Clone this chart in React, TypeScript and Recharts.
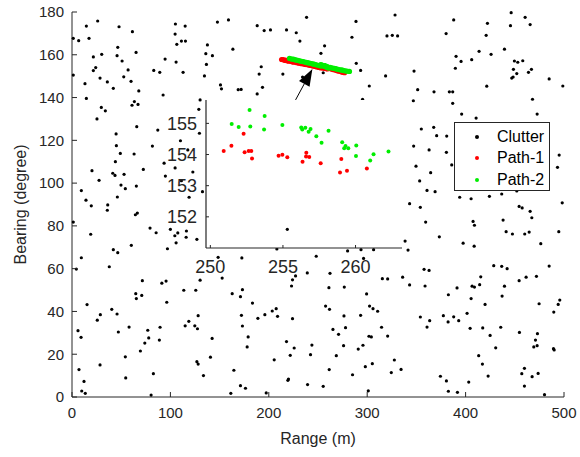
import React from "react";
import { ScatterChart, Scatter, XAxis, YAxis, ReferenceLine, Legend } from "recharts";

type Pt = [number, number];

// ─── Data: [range (m), bearing (degree)] ─────────────────────────────────────
const clutter: Pt[] = [
  [26.1,175.8],[14.6,173.4],[47.8,173.1],[61.4,170.8],[105.1,174.4],[115,173.4],[1.3,167.7],[6.8,166.6],[17.3,167.7],[104.8,169.7],
  [106.5,164.9],[111.2,166.4],[115.3,166.4],[46.5,163.5],[65.1,161.1],[30.2,160.2],[21.7,159],[45.8,159.6],[50.9,157.1],[94.6,158],
  [105.8,156.6],[24.1,154],[21.7,152.6],[57,152.9],[83.1,152.7],[89.2,151.8],[112.9,151.8],[1.3,150.5],[28.5,149.1],[52.6,149.7],
  [13.2,146.5],[35.9,147.3],[60,147.6],[42,144.3],[67.9,143.1],[14.6,139.6],[92.6,141.2],[63.4,138.1],[61,136.4],[67.1,136.8],
  [29.8,135.4],[33.9,133.8],[25.4,130],[65.8,126.4],[87.2,124.8],[44.8,123],
  [147.8,175.3],[159,176.3],[238.4,177.5],[188.2,173.6],[195.3,171.3],[201.7,171.6],[218,171.6],[227.9,170.3],[231.6,166.4],[137.6,164.6],
  [136,160.5],[142.7,159.6],[163.5,162.6],[136.6,155.5],[134.6,150.1],[192.3,154.4],[214.3,151],[190.2,151],[234.3,149.6],[150.9,145.9],
  [151.9,144.1],[168.9,143.7],[171.9,143.8],[193.6,144.8],[188.2,141.7],[130.2,138.9],[128.9,134.5],[129.5,123.3],
  [328.3,178.6],[288.6,175.6],[284.5,168.2],[320.1,168.8],[325.5,169.1],[330.9,168.8],[256.7,164.2],[253,160.7],[288.9,156],[293.3,152.7],
  [255.3,151.6],[347.6,152.4],[318.7,150.1],[302.1,145.4],[351.3,143.7],[367.9,142.7],[295.3,139.2],[346.9,138.5],[355,125.3],[367.6,126.1],
  [370.6,122.2],
  [446.3,179.7],[387.9,176.3],[422.2,174.7],[460.5,177.5],[445.6,173.6],[465.6,174.1],[380.2,169.9],[420.9,169.1],[439.5,162.6],[413.7,161.6],
  [425.9,160.2],[390.3,159.3],[395.4,156.9],[406.2,157.7],[449.6,157.1],[453,156.5],[458.1,157.2],[389.6,153.7],[448.6,153.2],[466.9,153.2],
  [463.9,151.8],[452,151.2],[448.3,149.6],[446.9,149.1],[484.9,148.7],[498.8,145.4],[421.5,145.3],[383.5,142.7],[386.9,142.7],[468,139.2],
  [386.9,137.3],[396,132.3],[472.7,132.3],[410.7,130.4],[380.8,122],
  [110.2,119.8],[45.1,117.5],[81.7,117.3],[49.1,113.9],[63.1,113.6],[44.1,110],[93.6,109.3],[117.7,115.5],[104.8,107.1],[20.3,105.8],
  [41.4,104.6],[43.7,103.6],[52.9,104.1],[72.5,106.4],[94.9,103.3],[111.2,101.1],[27.5,101.3],[49.8,99.1],[54.2,97.4],[65.4,98.6],
  [9.5,96.5],[46.1,93.5],[119,93.4],[14.2,92],[19.6,89.4],[36.3,89.8],[35.9,87.3],[66.4,86],[64.4,85.2],[1.3,81.8],
  [79.3,79],[85.5,76.8],[100,78.4],[107.5,76.7],[104.5,75.4],[116.3,77.6],[116,74.7],[19,76.1],[105.8,72.1],[97,69.3],
  [60.3,70.9],[42,68.9],[46.5,67.5],[9.5,65.1],[37.9,60.9],
  [122.8,105.2],[132.6,96],[126.9,73.7],[148.5,65.3],[172.6,65],[208.2,69.2],
  [347.2,117.3],[362.9,115.5],[349.6,107.9],[364.5,104.9],[353.3,101],[360.8,96.6],[369,96],[343.1,90.4],[354,88.7],[359.4,81.8],
  [338.5,72.9],[341.5,68.7],[248.2,65.8],[280.1,68.3],[293.7,68.9],[306.5,68.9],[296.3,64.8],
  [380.5,114.4],[385.9,108.5],[495.1,113.1],[493.4,107.4],[373.3,74.9],[394,93.4],[405.6,92.7],[424.2,93.8],[436.7,94.9],[452,96.3],
  [498.2,90.8],[454.4,89.1],[457.5,88.4],[465.6,86.8],[467.3,83.8],[407.6,82.1],[409,80.3],[438.1,82.7],[441.2,77.3],[447.6,76.2],
  [460.1,76.2],[464.6,77.1],[494.7,77.3],[397.5,71.9],[408.7,70.5],[476.4,71.7],[428.6,61.4],[436.7,61.1],[484.9,61.2],
  [4.4,59.8],[71.5,54.4],[91.3,53.2],[95.6,54.2],[113.6,49.9],[64.8,48.3],[65.4,46],[70.9,47.5],[96.3,44.3],[15.3,43.2],
  [40.4,41],[28.8,38.5],[45.8,38.8],[25.7,35.9],[6.1,31],[9.2,27.9],[47.1,30.4],[58,32.7],[77,31.2],[78,27.6],
  [74,25.2],[69.5,21.5],[89.5,32.6],[88.8,26.6],[115,33.3],[118.7,35.4],[54.2,18.8],[28.5,15],[7.1,12.8],[12.2,7.3],
  [9.9,2.8],[13.5,1.7],[54.6,8.9],[82.7,10.9],[80.4,0.9],
  [130.2,54.6],[152.6,55.6],[125.8,49.9],[162.8,48.3],[173.2,50.2],[171.2,46.9],[183.4,43.9],[223.1,51.9],[224.1,54.8],[227.2,56.6],
  [239.1,58],[128.2,38],[124.8,33.3],[127.5,31.9],[172.2,38.2],[173.2,33.2],[188.9,36.8],[196,38.5],[203.5,40.2],[207.5,41.3],
  [208.9,37.7],[224.1,36.6],[142.4,27.4],[179,28.1],[178,23.4],[218,25.9],[225.8,22.9],[243.8,24.3],[221.8,19.5],[242.4,19.8],
  [205.5,17.4],[140.7,18.6],[126.9,16.5],[128.2,15.4],[133.6,10],[164.5,12.5],[171.2,5.3],[176.3,4.1],[161.4,1.7],[197.4,1.9],
  [220,8.4],[219.4,7.8],[239.4,5.8],
  [262.2,57.8],[357.8,59.7],[362.9,59.2],[315.4,55.3],[320.8,55.2],[336,56],[343.1,52.4],[358.8,51.9],[261.1,51.1],[276.7,51.4],
  [299.4,48.2],[257.7,42.5],[261.7,41],[302.4,42.5],[305.9,41.3],[310.6,40.1],[276.4,37.9],[293.3,38.2],[354,37.4],[363.5,35.7],
  [360.8,32.7],[265.2,31.6],[278,32.4],[270.9,29.3],[314.6,32.6],[301.8,28.4],[304.2,28.1],[320.8,28.5],[276,24],[290.9,22.4],
  [295.7,24.2],[268.6,19.3],[327.6,17.3],[305.2,15.6],[298.1,14.2],[261.4,12.8],[334.4,12.9],[324.5,11.4],[285.1,10.4],[255.3,5],
  [301.1,2.9],
  [442.2,60],[415.4,56.2],[454.4,54.4],[461.5,56],[472,56.4],[391.3,51],[382.5,47.8],[406.6,51.8],[409,51.4],[414.3,52.5],
  [439.5,51.8],[405.6,46],[437.1,47.2],[419.8,43.3],[474.7,43.6],[495.7,45.3],[494.1,43.3],[489.6,39.7],[377.4,38],[387.9,37.5],
  [382.2,35.1],[393,35.7],[401.5,39.1],[404.6,32.1],[417.4,32.3],[435.7,32.6],[424.9,28.8],[454.7,30.2],[473,29.6],[471,26.6],
  [469.3,23.4],[472.7,24],[430.6,23],[489.3,22.6],[490,22],[413.3,19.3],[417.1,15.4],[374.4,9.7],[380.5,7.5],[422.9,9.8],
  [459.8,13.4],[457.1,10.9],[467.6,9.5],[473.7,11],[459.8,5.1],[403.2,7],[382.5,2.7],[391.7,2.2],[480.2,1.1],
];

const path1: Pt[] = [
  [213,157.8],[214.5,157.7],[216,157.4],[217,157.5],[218.5,157.2],[220,157.0],[221.5,157.1],[223,156.8],[224,156.7],[225.5,156.5],
  [227,156.6],[228.5,156.3],[230,156.1],[231,156.2],[232.5,155.9],[234,155.8],[235.5,155.7],[237,155.5],[238,155.4],[239.5,155.4],
  [241,155.1],[242.5,155.0],[244,154.9],[245,154.8],[246.5,154.6],[248,154.5],[249,154.3],
  [250.92,154.11],[251.45,154.28],[252.29,154.67],[252.36,154.07],[252.64,154.11],[252.82,154.11],[252.87,153.87],[254.7,153.96],
  [254.96,153.99],[255.3,153.91],[256.35,153.77],[256.61,154.06],[256.59,153.94],[256.81,153.92],[257.6,153.72],[259.02,153.86],
  [258.93,153.42],[259.41,153.48],[260.78,153.55],
  [263.5,153.3],[265,153.2],[266,153.0],[267.5,152.9],[269,152.6],[270,152.5],[271.5,152.3],[273,152.2],[274,151.9],[275.5,151.8],
  [277,151.6],
];

const path2: Pt[] = [
  [221,158.3],[222.5,158.1],[224,157.9],[225,158.0],[226.5,157.7],[228,157.5],[229.5,157.4],[231,157.2],[232,157.1],[233.5,156.9],
  [235,156.8],[236.5,156.6],[238,156.5],[239,156.3],[240.5,156.2],[242,156.0],[243.5,155.9],[245,155.7],[246,155.6],[247.5,155.4],
  [249,155.2],
  [251.47,154.98],[251.95,154.88],[252.7,155.43],[252.75,154.9],[253.74,155.24],[253.7,154.8],[254.96,154.95],[256.26,154.87],
  [256.33,154.8],[256.54,154.86],[256.77,154.73],[256.9,154.82],[257.3,154.59],[258.14,154.76],[257.66,154.38],[259.08,154.39],
  [259.22,154.2],[259.31,154.27],[259.5,154.2],[260.05,154.29],[260.03,153.95],[261.24,154.01],[261.01,153.81],[262.27,154.1],
  [263.5,153.9],[265,153.8],[266.5,153.6],[268,153.5],[269,153.3],[270.5,153.2],[272,153.0],[273.5,152.9],[275,152.8],[276,152.6],
  [277.5,152.5],[279,152.4],[280.5,152.3],[282,152.2],
];

const rangeTicks = [0, 100, 200, 300, 400, 500];
const bearingTicks = [0, 20, 40, 60, 80, 100, 120, 140, 160, 180];
const insetRangeTicks = [250, 255, 260];
const insetBearingTicks = [152, 153, 154, 155];

const insetRange: Pt = [249.7, 263.2];
const insetBearing: Pt = [151, 155.75];
const arrowFrom: Pt = [227.2, 138.9];
const arrowTo: Pt = [244.3, 153.4];

// ─── Style ────────────────────────────────────────────────────────────────────
const AXIS = "#262626";
const FONT = '"Liberation Sans", Arial, Helvetica, sans-serif';
const RED = "#ff0000";
const GREEN = "#00ee00";

const rows = (pts: Pt[]) => pts.map(([x, y]) => ({ x, y }));
const inInset = (pts: Pt[]) =>
  rows(
    pts.filter(
      ([x, y]) => x >= insetRange[0] && x <= insetRange[1] && y >= insetBearing[0] && y <= insetBearing[1]
    )
  );

const dot = (r: number, color: string) => (p: any) =>
  <circle cx={p.cx} cy={p.cy} r={r} fill={color} />;

// inward MATLAB-style ticks; labels optional
function tick(side: "bottom" | "top" | "left" | "right", len: number, fontSize = 0, gap = 0) {
  return (p: any) => {
    const { x, y, payload } = p;
    const txt = { fontFamily: FONT, fontSize, fill: AXIS };
    if (side === "bottom")
      return (
        <g>
          <line x1={x} y1={y} x2={x} y2={y - len} stroke={AXIS} />
          {fontSize > 0 && (
            <text x={x} y={y + gap} dy="0.71em" textAnchor="middle" {...txt}>{payload.value}</text>
          )}
        </g>
      );
    if (side === "top") return <line x1={x} y1={y} x2={x} y2={y + len} stroke={AXIS} />;
    if (side === "right") return <line x1={x} y1={y} x2={x - len} y2={y} stroke={AXIS} />;
    return (
      <g>
        <line x1={x} y1={y} x2={x + len} y2={y} stroke={AXIS} />
        {fontSize > 0 && (
          <text x={x - gap} y={y} dy="0.355em" textAnchor="end" {...txt}>{payload.value}</text>
        )}
      </g>
    );
  };
}

function Arrow(p: any) {
  const { x1, y1, x2, y2 } = p;
  const dx = x2 - x1, dy = y2 - y1;
  const L = Math.hypot(dx, dy);
  const ux = dx / L, uy = dy / L;
  const head = 17, half = 6;
  const bx = x2 - ux * head, by = y2 - uy * head;
  return (
    <g>
      <line x1={x1} y1={y1} x2={bx} y2={by} stroke="#000" strokeWidth={1} />
      <polygon
        points={`${x2},${y2} ${bx - uy * half},${by + ux * half} ${bx + uy * half},${by - ux * half}`}
        fill="#000"
      />
    </g>
  );
}

function LegendBox({ payload }: any) {
  return (
    <div
      style={{
        width: 96, height: 69, boxSizing: "border-box", background: "#fff",
        border: `1px solid ${AXIS}`, fontFamily: FONT, fontSize: 16, color: "#000",
        paddingTop: 3,
      }}
    >
      {(payload || []).map((e: any) => (
        <div key={e.value} style={{ display: "flex", alignItems: "center", height: 21.5 }}>
          <span style={{ width: 4, height: 4, borderRadius: 2, background: e.color, marginLeft: 20, marginRight: 18 }} />
          <span>{e.value}</span>
        </div>
      ))}
    </div>
  );
}

export default function App() {
  return (
    <div style={{ position: "absolute", left: 0, top: 0, width: 580, height: 457, background: "#fff" }}>
      <ScatterChart width={580} height={457} margin={{ top: 12, right: 16, bottom: 0, left: 0 }}>
        <XAxis
          type="number" dataKey="x" domain={[0, 500]} ticks={rangeTicks} interval={0}
          height={60} tickSize={0} tickMargin={0} axisLine={{ stroke: AXIS }}
          tick={tick("bottom", 5, 15, 10)}
          label={{
            content: (lp: any) => (
              <text x={lp.viewBox.x + lp.viewBox.width / 2} y={444} textAnchor="middle"
                fontFamily={FONT} fontSize={16} fill={AXIS}>Range (m)</text>
            ),
          }}
        />
        <XAxis xAxisId="top" orientation="top" type="number" domain={[0, 500]} ticks={rangeTicks}
          interval={0} height={0} tickSize={0} tickMargin={0} axisLine={{ stroke: AXIS }} tick={tick("top", 5)} />
        <YAxis
          type="number" dataKey="y" domain={[0, 180]} ticks={bearingTicks} interval={0}
          width={72} tickSize={0} tickMargin={0} axisLine={{ stroke: AXIS }}
          tick={tick("left", 5, 15, 8)}
          label={{
            content: (lp: any) => (
              <text transform={`translate(26,${lp.viewBox.y + lp.viewBox.height / 2}) rotate(-90)`}
                textAnchor="middle" fontFamily={FONT} fontSize={16} fill={AXIS}>Bearing (degree)</text>
            ),
          }}
        />
        <YAxis yAxisId="right" orientation="right" type="number" domain={[0, 180]} ticks={bearingTicks}
          interval={0} width={0} tickSize={0} tickMargin={0} axisLine={{ stroke: AXIS }} tick={tick("right", 5)} />

        <Scatter name="Clutter" data={rows(clutter)} fill="#000" shape={dot(1.6, "#000")} isAnimationActive={false} />
        <Scatter name="Path-1" data={rows(path1)} fill={RED} shape={dot(2.6, RED)} isAnimationActive={false} />
        <Scatter name="Path-2" data={rows(path2)} fill={GREEN} shape={dot(2.6, GREEN)} isAnimationActive={false} />

        <ReferenceLine
          segment={[{ x: arrowFrom[0], y: arrowFrom[1] }, { x: arrowTo[0], y: arrowTo[1] }]}
          shape={Arrow}
        />
        <Legend
          layout="vertical" align="center" verticalAlign="middle"
          content={<LegendBox />}
          wrapperStyle={{ left: 454, top: 122, width: 96, height: 69 }}
        />
      </ScatterChart>

      {/* inset: white plot background, then the zoomed chart */}
      <div style={{ position: "absolute", left: 206, top: 100, width: 196, height: 148, background: "#fff" }} />
      <div style={{ position: "absolute", left: 150, top: 95 }}>
        <ScatterChart width={260} height={185} margin={{ top: 5, right: 8, bottom: 0, left: 0 }}>
          <XAxis type="number" dataKey="x" domain={insetRange} ticks={insetRangeTicks} interval={0}
            allowDataOverflow height={32} tickSize={0} tickMargin={0}
            axisLine={{ stroke: AXIS, strokeWidth: 1.2 }} tick={tick("bottom", 3, 18, 12)} />
          <XAxis xAxisId="top" orientation="top" type="number" domain={insetRange} ticks={insetRangeTicks}
            interval={0} allowDataOverflow height={0} tickSize={0} tickMargin={0}
            axisLine={{ stroke: AXIS, strokeWidth: 1.2 }} tick={tick("top", 3)} />
          <YAxis type="number" dataKey="y" domain={insetBearing} ticks={insetBearingTicks} interval={0}
            allowDataOverflow width={56} tickSize={0} tickMargin={0}
            axisLine={{ stroke: AXIS, strokeWidth: 1.2 }} tick={tick("left", 3, 18, 9)} />
          <YAxis yAxisId="right" orientation="right" type="number" domain={insetBearing} ticks={insetBearingTicks}
            interval={0} allowDataOverflow width={0} tickSize={0} tickMargin={0}
            axisLine={{ stroke: AXIS, strokeWidth: 1.2 }} tick={tick("right", 3)} />
          <Scatter data={inInset(clutter)} shape={dot(1.6, "#000")} isAnimationActive={false} />
          <Scatter data={inInset(path1)} shape={dot(2, RED)} isAnimationActive={false} />
          <Scatter data={inInset(path2)} shape={dot(2, GREEN)} isAnimationActive={false} />
        </ScatterChart>
      </div>
    </div>
  );
}
